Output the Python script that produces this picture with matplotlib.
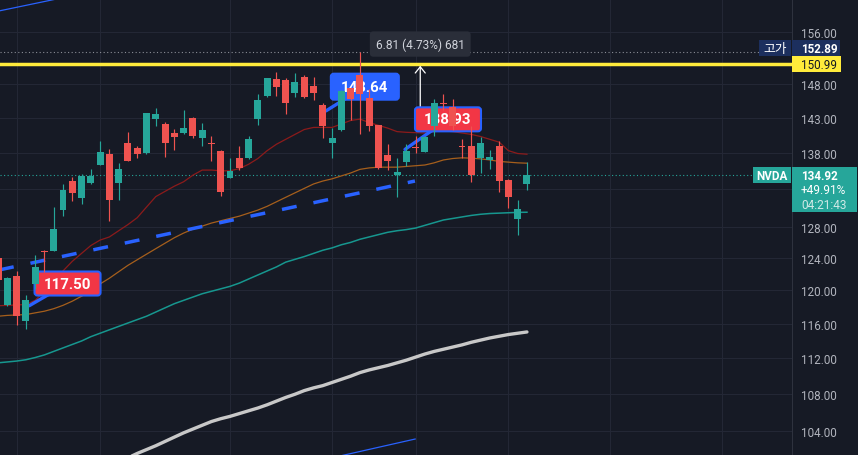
import numpy as np
import matplotlib
matplotlib.use('Agg')
import matplotlib.pyplot as plt
from matplotlib.patches import Rectangle, FancyBboxPatch
from matplotlib.lines import Line2D
from matplotlib.transforms import IdentityTransform
from matplotlib.ticker import NullLocator, NullFormatter

plt.rcParams['font.family'] = ['Roboto', 'Noto Sans CJK KR', 'DejaVu Sans']

W, H, DPI = 858, 456, 100
BG = '#161a25'
GRID = '#232735'
UP = '#26a69a'
DOWN = '#ef5350'
BLUE = '#2962ff'
LABEL_RED = '#f23645'
TXT = '#b2b5be'
YELLOW = '#ffeb3b'
NAVY = '#1c2f5e'

# ---------------- data ----------------
candle_index = list(range(-1, 57))
opens = [124.02, 118.24, 121.81, 116.37, 120.78, 124.96, 124.94, 130.21, 134.05, 131.80,
         133.82, 136.34, 137.83, 133.82, 139.38, 138.67, 137.97, 142.81, 142.09, 140.80,
         140.80, 142.96, 140.08, 139.45, 138.29, 134.55, 137.27, 137.27, 142.81, 146.18,
         148.73, 148.58, 146.63, 149.03, 147.68, 144.90, 139.42, 141.27, 147.38, 149.34,
         145.84, 141.95, 137.69, 134.95, 136.75, 138.81, 138.15, 141.85, 145.18, 144.56,
         138.91, 138.91, 137.27, 137.03, 138.95, 134.23, 129.02, 133.69]
highs = [124.52, 121.65, 122.43, 119.48, 124.39, 125.02, 130.57, 133.69, 134.60, 135.05,
         135.74, 139.66, 138.53, 136.57, 140.98, 138.99, 143.76, 144.42, 142.42, 141.37,
         144.12, 143.15, 142.24, 140.32, 138.36, 137.27, 138.91, 140.32, 146.48, 148.96,
         149.81, 148.88, 149.66, 149.34, 148.98, 145.15, 141.47, 147.05, 147.45, 152.89,
         147.23, 142.02, 139.24, 137.27, 139.24, 140.41, 140.32, 145.74, 146.48, 145.74,
         139.94, 141.85, 140.18, 138.43, 139.61, 134.44, 131.54, 136.66]
lows = [120.79, 118.12, 115.90, 115.39, 120.17, 122.30, 124.90, 129.46, 131.44, 131.00,
        133.75, 136.30, 128.80, 131.58, 136.85, 137.27, 137.90, 141.85, 137.45, 138.43,
        140.73, 140.08, 139.00, 136.89, 132.11, 134.51, 135.64, 137.20, 142.00, 146.11,
        146.18, 143.54, 146.04, 145.89, 145.59, 140.08, 137.23, 141.04, 142.71, 140.66,
        141.13, 135.81, 135.64, 131.90, 136.12, 137.97, 138.07, 140.32, 144.12, 141.30,
        137.23, 133.92, 135.23, 135.74, 132.65, 130.51, 126.98, 132.88]
closes = [121.28, 121.52, 116.96, 118.84, 122.93, 124.84, 127.72, 132.88, 132.47, 134.74,
          134.78, 138.07, 131.54, 135.74, 136.89, 137.83, 143.69, 143.54, 139.38, 140.23,
          141.51, 140.41, 141.23, 139.24, 132.65, 135.47, 135.88, 139.94, 145.59, 148.88,
          147.58, 145.15, 148.28, 145.99, 146.68, 141.85, 140.08, 146.98, 145.74, 146.48,
          141.76, 135.84, 136.89, 135.37, 138.29, 138.63, 140.18, 145.15, 145.03, 141.81,
          138.77, 134.95, 139.38, 137.41, 134.14, 131.98, 130.34, 134.92]

ma20 = [118.15, 118.2, 118.25, 118.3, 118.8, 119.9, 121.3, 122.4, 123.6, 124.6,
        125.6, 126.3, 126.7, 127.5, 128.3, 129.2, 130.6, 132.0, 132.7, 133.4,
        134.0, 134.9, 135.6, 135.6, 135.5, 135.5, 135.8, 136.4, 137.2, 138.3,
        139.2, 139.9, 140.6, 141.3, 141.6, 141.6, 141.6, 142.1, 142.6, 142.8,
        142.3, 141.9, 141.5, 141.0, 140.9, 140.85, 140.8, 141.0, 141.1, 141.0,
        140.8, 140.6, 140.3, 139.9, 139.5, 138.3, 137.9, 137.8]
ma50 = [116.9, 117.0, 117.05, 117.1, 117.3, 117.5, 117.8, 118.2, 118.7, 119.3,
        119.9, 120.8, 121.5, 122.3, 123.1, 123.8, 124.5, 125.2, 125.9, 126.6,
        127.2, 127.7, 128.1, 128.5, 128.8, 129.1, 129.4, 129.8, 130.2, 130.7,
        131.3, 131.9, 132.5, 133.1, 133.7, 134.1, 134.4, 134.8, 135.2, 135.7,
        135.9, 136.0, 136.0, 136.0, 136.1, 136.2, 136.3, 136.6, 137.0, 137.2,
        137.3, 137.25, 137.15, 137.0, 136.8, 136.7, 136.6, 136.55]
ma100 = [111.5, 111.6, 111.7, 111.85, 112.1, 112.4, 112.8, 113.2, 113.6, 114.0,
         114.5, 114.9, 115.3, 115.7, 116.1, 116.5, 116.9, 117.4, 117.9, 118.4,
         118.8, 119.2, 119.6, 119.9, 120.2, 120.5, 120.9, 121.4, 121.9, 122.4,
         122.9, 123.5, 123.85, 124.2, 124.6, 125.0, 125.3, 125.7, 126.0, 126.4,
         126.7, 127.0, 127.3, 127.5, 127.65, 127.85, 128.2, 128.55, 128.9, 129.1,
         129.3, 129.5, 129.65, 129.75, 129.8, 129.85, 129.9, 129.92]
ma200_index = list(range(12, 57))
ma200 = [100.8, 101.25, 101.7, 102.1, 102.5, 102.95, 103.4, 103.85, 104.25, 104.65,
         105.05, 105.35, 105.6, 105.9, 106.2, 106.5, 106.85, 107.25, 107.65, 108.0,
         108.4, 108.7, 108.95, 109.3, 109.65, 110.0, 110.4, 110.7, 110.95, 111.2,
         111.5, 111.8, 112.15, 112.5, 112.8, 113.05, 113.3, 113.55, 113.85, 114.1,
         114.35, 114.55, 114.75, 114.9, 115.05]

trend_index = [-1.344, 43.93]
trend_price = [122.41, 134.10]
channel_top_index = [-2.0, 6.0]
channel_top_price = [159.03, 161.54]
channel_bot_index = [34.0, 43.95]
channel_bot_price = [101.04, 103.20]

price_ticks = [156, 148, 143, 138, 133, 128, 124, 120, 116, 112, 108, 104]
hidden_ticks = [133]
grid_x = [1, 10, 24, 35, 44, 54, 65, 77]

high_price = 152.89
level_price = 150.99
last_price = 134.92
ticker = 'NVDA'
high_label = '고가'
change_pct = '+49.91%'
countdown = '04:21:43'

callout_text = ['117.50', '143.64', '138.93']
callout_center = [(6.49, 120.85), (38.53, 147.58), (47.49, 142.77)]
callout_tip = [(2.37, 118.16), (34.34, 144.0), (42.86, 138.48)]
callout_fill = [LABEL_RED, BLUE, LABEL_RED]
callout_size = [(66, 24), (68, 26), (66, 24)]

measure_text = '6.81 (4.73%) 681'
measure_index = 44.5
measure_from = 144.52
measure_to = 150.75
measure_label_price = 154.11

# ---------------- figure ----------------
fig = plt.figure(figsize=(W / DPI, H / DPI), dpi=DPI, facecolor=BG)
AXR = 791.7
ax = fig.add_axes([0, 0, AXR / W, 1])
ax.set_facecolor(BG)
ax.set_yscale('log')
ax.set_xlim(-0.787, 84.53)
ax.set_ylim(101.54, 161.32)
ax.set_yticks(price_ticks, labels=[('' if t in hidden_ticks else f'{t:.2f}') for t in price_ticks])
ax.yaxis.set_minor_locator(NullLocator())
ax.yaxis.set_minor_formatter(NullFormatter())
ax.yaxis.tick_right()
ax.tick_params(axis='y', length=0, pad=6.8, labelsize=8.4, labelcolor=TXT)
ax.set_xticks(grid_x)
ax.tick_params(axis='x', length=0, labelbottom=False)
ax.grid(True, color=GRID, lw=0.75)
ax.set_axisbelow(True)
for s in ['top', 'left', 'bottom']:
    ax.spines[s].set_visible(False)
ax.spines['right'].set_color('#2e323e')
ax.spines['right'].set_linewidth(0.75)

# horizontal reference lines
ax.axhline(level_price, color=YELLOW, lw=2.5, zorder=4)
ax.axhline(high_price, color='#8a8d96', lw=0.8, ls=(0, (1, 2.2)), xmax=759 / AXR, zorder=2)
ax.axhline(last_price, color=UP, lw=0.8, ls=(0, (1, 2.2)), xmax=753 / AXR, zorder=2)

# channel / trend lines
ax.plot(channel_top_index, channel_top_price, color=BLUE, lw=0.9, zorder=3)
ax.plot(channel_bot_index, channel_bot_price, color=BLUE, lw=0.9, zorder=3)
ax.plot(trend_index, trend_price, color=BLUE, lw=2.5, dashes=(4.32, 4.94), zorder=3.5)

# moving averages
idx = np.array(candle_index)
ax.plot(idx, ma20, color='#8c1b1b', lw=0.9, zorder=3)
ax.plot(idx, ma50, color='#a65f1c', lw=0.9, zorder=3)
ax.plot(idx, ma100, color='#16978f', lw=1.1, zorder=3)
ax.plot(ma200_index, ma200, color='#c8c8c8', lw=2.4, zorder=3, solid_capstyle='round')

# callout labels (under candles)
def disp(i, p):
    return ax.transData.transform((i, p))

for txt, cen, tip, fc, (bw, bh) in zip(callout_text, callout_center, callout_tip,
                                       callout_fill, callout_size):
    cx, cy = disp(*cen)
    tx, ty = disp(*tip)
    ax.add_line(Line2D([cx, tx], [cy, ty], transform=IdentityTransform(), color=BLUE,
                       lw=2.4, solid_capstyle='round', zorder=4.2))
    ax.add_patch(FancyBboxPatch((cx - bw / 2, cy - bh / 2), bw, bh,
                                boxstyle='round,pad=0,rounding_size=3',
                                transform=IdentityTransform(), fc=fc, ec=BLUE, lw=1.5,
                                zorder=4.4))
    ax.text(cen[0], cen[1], txt, ha='center', va='center', color='white', fontsize=10.8,
            fontweight='bold', zorder=4.5)

# measure arrow
ax.annotate('', xy=(measure_index, measure_to), xytext=(measure_index, measure_from),
            arrowprops=dict(arrowstyle='->,head_length=0.45,head_width=0.36',
                            color='white', lw=0.9, shrinkA=0, shrinkB=0), zorder=4.1)

# candles
o = np.array(opens); h = np.array(highs); l = np.array(lows); c = np.array(closes)
cols = np.where(c >= o, UP, DOWN)
ax.vlines(idx, l, h, colors=cols, lw=0.85, zorder=5)
ax.bar(idx, np.abs(c - o), bottom=np.minimum(o, c), width=0.75, color=cols,
       linewidth=0, zorder=6)

# measure label
ax.text(measure_index, measure_label_price, measure_text, ha='center', va='center',
        color='#d1d4dc', fontsize=8.6, zorder=20,
        bbox=dict(boxstyle='round,pad=0.5,rounding_size=0.3', fc='#2a2e39', ec='none'))

# ---------------- right-side price labels ----------------
def ypx(p):
    return ax.transData.transform((0, p))[1]

def box(x, y, w, hgt, color):
    fig.add_artist(Rectangle((x, y), w, hgt, transform=IdentityTransform(), fc=color,
                             ec='none', zorder=10))

def label(x, y, s, color='white', weight='normal', ha='left', size=8.4):
    fig.text(x, y, s, transform=IdentityTransform(), color=color, fontsize=size,
             fontweight=weight, ha=ha, va='center', zorder=11)

TX = 801
yl = ypx(level_price)
box(AXR, yl - 8, 49.3, 16, YELLOW)
label(TX, yl, f'{level_price:.2f}', color='#131722')

yh = yl + 16
box(AXR, yh - 8, 48.3, 16, NAVY)
box(759, yh - 8, 31.7, 16, NAVY)
label(TX, yh, f'{high_price:.2f}', weight='bold')
label(775, yh, high_label, ha='center', size=9.2)

yc = ypx(last_price)
box(753, yc - 8.3, 37.7, 16.6, UP)
box(AXR, yc + 8.3 - 45, 65.3, 45, UP)
label(772, yc, ticker, weight='bold', ha='center')
label(TX, yc, f'{last_price:.2f}', weight='bold')
label(TX, yc - 14.7, change_pct, size=8.6)
label(TX, yc - 29, countdown, color='#cfe9e6', size=8.6)

fig.savefig('out.png', dpi=DPI, facecolor=BG)
